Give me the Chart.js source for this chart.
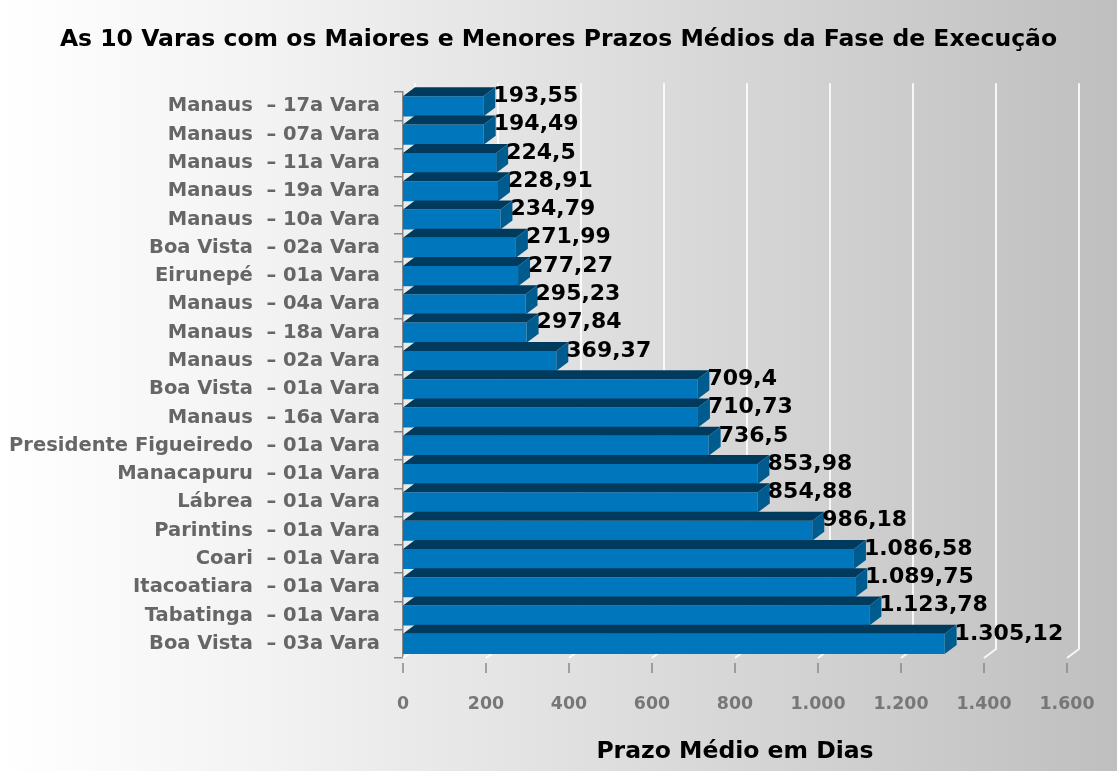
<!DOCTYPE html>
<html>
<head>
<meta charset="utf-8">
<title>Prazos Médios da Fase de Execução</title>
<script src="https://cdn.jsdelivr.net/npm/chart.js@4.4.1/dist/chart.umd.min.js"></script>
<style>
  body { margin: 0; background: #fff; }
  #chart { display: block; }
</style>
</head>
<body>
<canvas id="chart" width="1117" height="771"></canvas>
<script>
// dados
var varas = [
  "Manaus  \u2013 17a Vara", "Manaus  \u2013 07a Vara", "Manaus  \u2013 11a Vara",
  "Manaus  \u2013 19a Vara", "Manaus  \u2013 10a Vara", "Boa Vista  \u2013 02a Vara",
  "Eirunepé  \u2013 01a Vara", "Manaus  \u2013 04a Vara", "Manaus  \u2013 18a Vara",
  "Manaus  \u2013 02a Vara", "Boa Vista  \u2013 01a Vara", "Manaus  \u2013 16a Vara",
  "Presidente Figueiredo  \u2013 01a Vara", "Manacapuru  \u2013 01a Vara", "Lábrea  \u2013 01a Vara",
  "Parintins  \u2013 01a Vara", "Coari  \u2013 01a Vara", "Itacoatiara  \u2013 01a Vara",
  "Tabatinga  \u2013 01a Vara", "Boa Vista  \u2013 03a Vara"
];
var prazos = [193.55, 194.49, 224.5, 228.91, 234.79, 271.99, 277.27, 295.23, 297.84, 369.37,
              709.4, 710.73, 736.5, 853.98, 854.88, 986.18, 1086.58, 1089.75, 1123.78, 1305.12];
var eixoMin = 0, eixoMax = 1600, eixoPasso = 200;

var DX = 12, DY = 9; // profundidade 3D

function milhar(s) {
  return s.replace(/\B(?=(\d{3})+(?!\d))/g, ".");
}
function fmt(v) {
  var p = v.toString().split(".");
  return milhar(p[0]) + (p[1] ? "," + p[1] : "");
}

var fundo = {
  id: 'fundo',
  beforeDraw: function(chart) {
    var ctx = chart.ctx;
    var g = ctx.createLinearGradient(0, 0, chart.width, 0);
    g.addColorStop(0, '#ffffff');
    g.addColorStop(0.25, '#f2f2f2');
    g.addColorStop(1, '#bfbfbf');
    ctx.save();
    ctx.fillStyle = g;
    ctx.fillRect(0, 0, chart.width, chart.height);
    ctx.restore();
  }
};

var barras3d = {
  id: 'barras3d',
  beforeDatasetsDraw: function(chart) {
    var ctx = chart.ctx, x = chart.scales.x, a = chart.chartArea;
    ctx.save();
    ctx.strokeStyle = 'rgba(255,255,255,0.85)';
    ctx.lineWidth = 2;
    x.ticks.forEach(function(t) {
      var px = x.getPixelForValue(t.value);
      ctx.beginPath();
      ctx.moveTo(px + DX, a.top - DY);
      ctx.lineTo(px + DX, a.bottom - DY);
      ctx.lineTo(px, a.bottom);
      ctx.stroke();
    });
    ctx.restore();
  },
  afterDatasetsDraw: function(chart) {
    var ctx = chart.ctx;
    var meta = chart.getDatasetMeta(0);
    ctx.save();
    meta.data.forEach(function(bar) {
      var top = bar.y - bar.height / 2, bot = bar.y + bar.height / 2;
      ctx.fillStyle = '#003b5e';
      ctx.beginPath();
      ctx.moveTo(bar.base, top);
      ctx.lineTo(bar.x, top);
      ctx.lineTo(bar.x + DX, top - DY);
      ctx.lineTo(bar.base + DX, top - DY);
      ctx.closePath();
      ctx.fill();
      ctx.fillStyle = '#005b8f';
      ctx.beginPath();
      ctx.moveTo(bar.x, top);
      ctx.lineTo(bar.x + DX, top - DY);
      ctx.lineTo(bar.x + DX, bot - DY);
      ctx.lineTo(bar.x, bot);
      ctx.closePath();
      ctx.fill();
    });
    ctx.fillStyle = '#000';
    ctx.font = 'bold 22px "DejaVu Sans"';
    ctx.textBaseline = 'middle';
    ctx.textAlign = 'left';
    meta.data.forEach(function(bar, i) {
      ctx.fillText(fmt(prazos[i]), bar.x + 10, bar.y - bar.height / 2);
    });
    ctx.restore();
  },
  afterDraw: function(chart) {
    var ctx = chart.ctx, x = chart.scales.x, a = chart.chartArea;
    ctx.save();
    ctx.strokeStyle = '#888';
    ctx.lineWidth = 1.5;
    x.ticks.forEach(function(t) {
      var px = x.getPixelForValue(t.value);
      ctx.beginPath();
      ctx.moveTo(px, a.bottom + 5);
      ctx.lineTo(px, a.bottom + 15);
      ctx.stroke();
    });
    ctx.restore();
  }
};

new Chart(document.getElementById("chart"), {
  type: 'bar',
  data: {
    labels: varas,
    datasets: [{
      label: "Prazo Médio",
      data: prazos,
      backgroundColor: '#0077bd',
      borderWidth: 0,
      categoryPercentage: 1,
      barPercentage: 0.71
    }]
  },
  options: {
    indexAxis: 'y',
    responsive: false,
    devicePixelRatio: 1,
    animation: false,
    layout: { padding: 0 },
    plugins: {
      legend: { display: false },
      tooltip: { enabled: false },
      title: {
        display: true,
        text: 'As 10 Varas com os Maiores e Menores Prazos Médios da Fase de Execução',
        color: '#000',
        font: { family: 'DejaVu Sans', size: 23.5, weight: 'bold' },
        padding: { top: 26, bottom: 38 }
      }
    },
    scales: {
      x: {
        min: eixoMin,
        max: eixoMax,
        grid: { display: false },
        border: { display: false },
        ticks: {
          stepSize: eixoPasso,
          autoSkip: false,
          maxRotation: 0,
          color: '#777',
          padding: 28,
          font: { family: 'DejaVu Sans', size: 17.4, weight: 'bold' },
          callback: function(v) { return milhar(String(v)); }
        },
        title: {
          display: true,
          text: 'Prazo Médio em Dias',
          color: '#000',
          font: { family: 'DejaVu Sans', size: 23.5, weight: 'bold' },
          padding: { top: 0, bottom: 5 }
        },
        afterFit: function(s) { s.height = 113; s.paddingRight = 50; s.paddingLeft = 0; }
      },
      y: {
        grid: { display: true, drawOnChartArea: false, drawTicks: true, tickLength: 9, color: '#888', lineWidth: 1.5 },
        border: { display: true, color: '#888', width: 1.5 },
        ticks: {
          color: '#666',
          padding: 14,
          autoSkip: false,
          font: { family: 'DejaVu Sans', size: 19.5, weight: 'bold' }
        },
        afterFit: function(s) { s.width = 403; }
      }
    }
  },
  plugins: [fundo, barras3d]
});
</script>
</body>
</html>
